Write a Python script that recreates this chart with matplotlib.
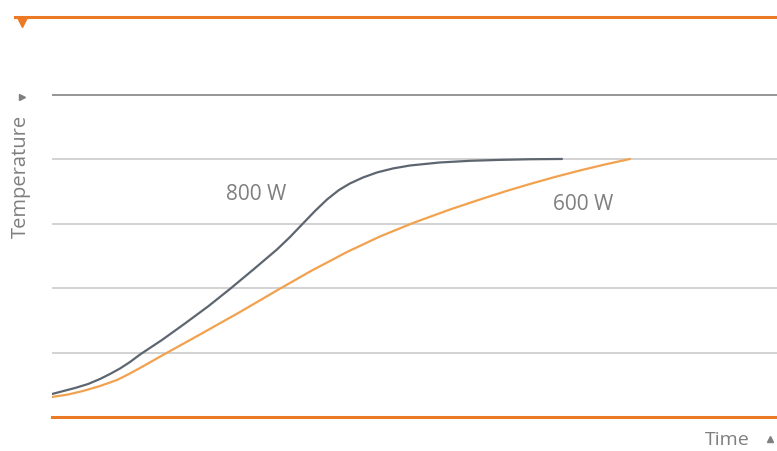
import matplotlib
matplotlib.use("Agg")
import matplotlib.pyplot as plt

plt.rcParams['font.family'] = ['Open Sans', 'DejaVu Sans']

# Curve data (time units, temperature levels)
t_800 = [0.000, 0.317, 0.497, 0.662, 0.800, 0.938, 1.076, 1.214, 1.517, 1.834,
         2.152, 2.455, 2.786, 3.103, 3.283, 3.462, 3.628, 3.793, 3.959, 4.110,
         4.290, 4.483, 4.703, 4.938, 5.352, 5.766, 6.179, 6.593, 7.034]
temp_800 = [0.357, 0.450, 0.512, 0.590, 0.668, 0.753, 0.854, 0.970, 1.196, 1.452,
            1.716, 1.988, 2.298, 2.601, 2.795, 3.005, 3.199, 3.377, 3.525, 3.626,
            3.719, 3.797, 3.859, 3.905, 3.952, 3.978, 3.992, 4.002, 4.006]

t_600 = [0.000, 0.221, 0.428, 0.662, 0.897, 1.048, 1.214, 1.531, 2.041, 2.593,
         3.090, 3.559, 4.069, 4.524, 4.979, 5.490, 5.903, 6.248, 6.593, 6.938,
         7.283, 7.628, 7.972]
temp_600 = [0.311, 0.349, 0.404, 0.481, 0.575, 0.660, 0.761, 0.963, 1.281, 1.630,
            1.957, 2.259, 2.562, 2.803, 3.012, 3.222, 3.377, 3.502, 3.618, 3.727,
            3.828, 3.921, 4.006]

grid_levels = [1, 2, 3, 4, 5]
labels = ["800 W", "600 W"]

col_dark = "#5d6670"
col_orange = "#f2a14f"
col_axis = "#ec7a25"
col_text = "#7f7f7f"

fig = plt.figure(figsize=(7.77, 4.52), dpi=100, facecolor='white')
# x: 0..10 -> px 52..777 ; y: -0.5..6.4 with 64.4 px per unit
ax = fig.add_axes([52 / 777, (452 - 450.2) / 452, 725 / 777, 444.4 / 452])
ax.set_xlim(0, 10)
ax.set_ylim(-0.5, 6.4)
ax.axis('off')

# gridlines
for lv in grid_levels:
    c = "#8c8c8c" if lv == 5 else "#cfcfcf"
    ax.plot([0, 10], [lv, lv], color=c, linewidth=1.3, zorder=1)

# axis lines
ax.plot([0, 10], [0, 0], color=col_axis, linewidth=2.2, clip_on=False, zorder=2)
ax.plot([-0.51, 10], [6.21, 6.21], color=col_axis, linewidth=2.2, clip_on=False, zorder=2)
ax.plot([-0.41], [6.14], marker='v', markersize=7, color=col_axis, clip_on=False, zorder=3)

# curves
ax.plot(t_600, temp_600, color=col_orange, linewidth=1.6, zorder=4,
        solid_joinstyle='round', solid_capstyle='round')
ax.plot(t_800, temp_800, color=col_dark, linewidth=1.6, zorder=5,
        solid_joinstyle='round', solid_capstyle='round')

ax.text(2.82, 3.47, labels[0], color=col_text, fontsize=15, ha='center', va='center')
ax.text(7.33, 3.31, labels[1], color=col_text, fontsize=15, ha='center', va='center')

# axis titles
fig.text(21 / 777, 1 - 176 / 452, "Temperature", rotation=90, color=col_text,
         fontsize=14.5, ha='center', va='center')
ax.plot([-0.42], [4.97], marker='>', markersize=4, color=col_text, clip_on=False)
ax.text(9.0, -0.34, "Time", color=col_text, fontsize=14, ha='left', va='center')
ax.plot([9.9], [-0.34], marker='^', markersize=4.5, color=col_text, clip_on=False)

plt.savefig("out.png", dpi=100, facecolor='white')
